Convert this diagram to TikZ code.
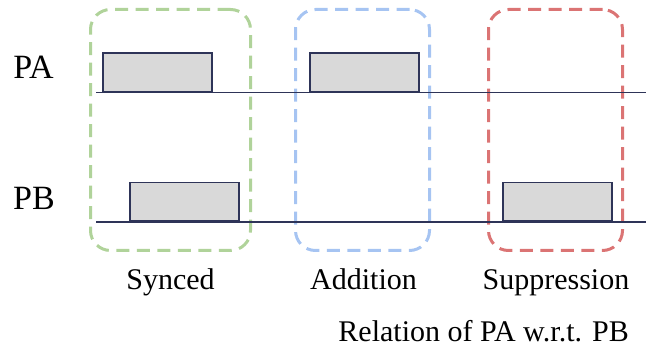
\documentclass[tikz,border=0pt]{standalone}
\usepackage{fontspec}
\setmainfont{Liberation Serif}
\definecolor{navy}{HTML}{2E3458}
\definecolor{gfill}{HTML}{D9D9D9}
\definecolor{gdash}{HTML}{B0D39A}
\definecolor{bdash}{HTML}{A6C4F2}
\definecolor{rdash}{HTML}{DB7474}
\tikzset{
  lbl/.style={font=\fontsize{30}{36}\selectfont, inner sep=0pt, anchor=base},
  rowlbl/.style={font=\fontsize{34}{40}\selectfont, inner sep=0pt, anchor=base},
  pulse/.style={draw=navy, fill=gfill, line width=1.6pt, inner sep=0pt, minimum width=109pt, minimum height=38.5pt, anchor=south west},
  axis/.style={draw=navy, line width=1.5pt},
  group/.style={rounded corners=20pt, line width=3pt, dash pattern=on 13pt off 7.5pt, inner sep=0pt, minimum height=241pt},
}
\begin{document}
\begin{tikzpicture}[x=1pt,y=-1pt]
\useasboundingbox (0,0) rectangle (646,358);
% group frames
\node[group, draw=gdash, minimum width=160pt] (gsync) at (170.5,130) {};
\node[group, draw=bdash, minimum width=134pt] (gadd) at (362.5,130) {};
\node[group, draw=rdash, minimum width=134pt] (gsup) at (555.5,130) {};
% axes
\coordinate (a0) at (96,92.5);
\coordinate (a1) at (646,92.5);
\coordinate (b0) at (96,222);
\coordinate (b1) at (646,222);
\draw[axis] (a0) -- (a1);
\draw[axis] (b0) -- (b1);
% pulses
\node[pulse] (pa1) at (102,92.5) {};
\node[pulse] (pa2) at (309,92.5) {};
\node[pulse] (pb1) at (129,222) {};
\node[pulse] (pb2) at (502,222) {};
% labels
\node[rowlbl] (tpa) at (33.5,79) {PA};
\node[rowlbl] (tpb) at (34,210) {PB};
\node[lbl] (tsync) at (170.5,290) {Synced};
\node[lbl] (tadd) at (363.5,290) {Addition};
\node[lbl] (tsup) at (556,290) {Suppression};
\node[lbl, anchor=base east] (trel) at (629,342) {Relation of PA w.r.t. PB};
\end{tikzpicture}
\end{document}
